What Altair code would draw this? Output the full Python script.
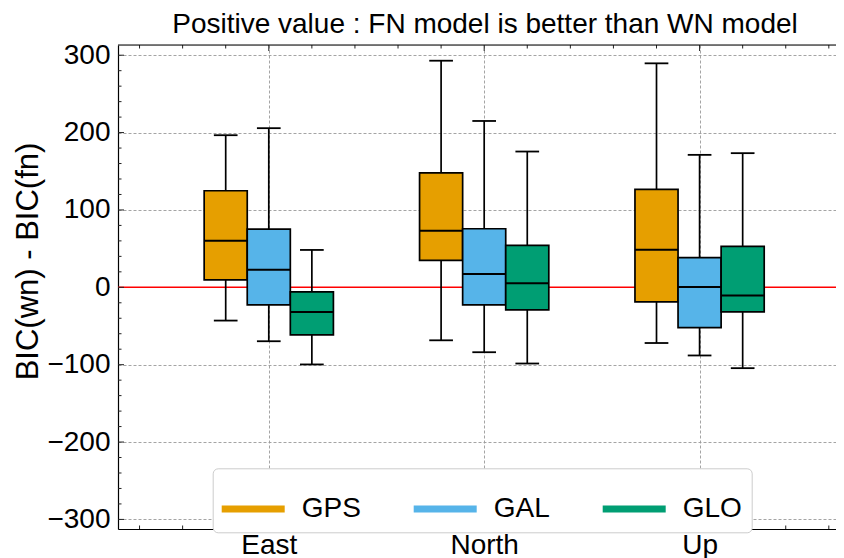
import altair as alt
import pandas as pd

FONT = "Liberation Sans"

# ---------------- data ----------------
categories = ["East", "North", "Up"]
systems = ["GPS", "GAL", "GLO"]
system_colors = ["#E69F00", "#56B4E9", "#009E73"]

# box statistics per category (East, North, Up)
gps_low = [-43.0, -68.5, -72.0]
gps_q1 = [9.5, 34.8, -18.9]
gps_median = [60.3, 73.2, 48.6]
gps_q3 = [124.8, 148.0, 126.5]
gps_high = [196.6, 292.9, 289.5]

gal_low = [-69.7, -83.9, -88.1]
gal_q1 = [-22.7, -22.7, -52.0]
gal_median = [22.8, 17.3, 0.5]
gal_q3 = [75.3, 75.7, 38.3]
gal_high = [205.7, 215.0, 171.2]

glo_low = [-99.7, -98.5, -104.5]
glo_q1 = [-61.4, -29.2, -31.7]
glo_median = [-31.8, 5.2, -10.7]
glo_q3 = [-5.9, 54.2, 52.9]
glo_high = [48.3, 175.5, 173.4]

y_major_ticks = [-300, -200, -100, 0, 100, 200, 300]
y_minor_ticks = [v for v in range(-300, 301, 20) if v % 100 != 0]
x_major_ticks = [0, 1, 2]
x_minor_ticks = [-0.6, -0.4, -0.2, 0.2, 0.4, 0.6, 0.8, 1.2, 1.4, 1.6, 1.8, 2.2, 2.4, 2.6]

title_text = "Positive value : FN model is better than WN model"
y_title = "BIC(wn) - BIC(fn)"

# ---------------- table ----------------
stats = {
    "GPS": (gps_low, gps_q1, gps_median, gps_q3, gps_high),
    "GAL": (gal_low, gal_q1, gal_median, gal_q3, gal_high),
    "GLO": (glo_low, glo_q1, glo_median, glo_q3, glo_high),
}
group_offsets = {"GPS": -0.2, "GAL": 0.0, "GLO": 0.2}
BOX_HALF = 0.1
CAP_HALF = 0.055

rows = []
for s in systems:
    lo, q1, med, q3, hi = stats[s]
    for i, c in enumerate(categories):
        pos = i + group_offsets[s]
        rows.append(dict(system=s, category=c, pos=pos,
                         left=pos - BOX_HALF, right=pos + BOX_HALF,
                         cap_l=pos - CAP_HALF, cap_r=pos + CAP_HALF,
                         low=lo[i], q1=q1[i], median=med[i], q3=q3[i], high=hi[i]))
df = pd.DataFrame(rows)

label_expr = "''"
for i in reversed(range(len(categories))):
    label_expr = f"(datum.value > {i} - 0.5 && datum.value < {i} + 0.5) ? '{categories[i]}' : ({label_expr})"

# ---------------- chart ----------------
W, H = 718, 484
xs = alt.Scale(domain=[-0.7, 2.6333], nice=False, zero=False)
ys = alt.Scale(domain=[-312.4, 313.2], nice=False, zero=False)
color_scale = alt.Scale(domain=systems, range=system_colors)

x_axis = alt.Axis(values=x_major_ticks, labelExpr=label_expr,
                  labelFont=FONT, labelFontSize=28, labelColor="black",
                  labelPadding=2, labelFlush=False,
                  ticks=False, domainColor="black", domainWidth=1.2,
                  title=None,
                  grid=True, gridColor="#9a9a9a", gridDash=[3, 2], gridWidth=0.9)

y_axis = alt.Axis(values=y_major_ticks,
                  labelFont=FONT, labelFontSize=28, labelColor="black",
                  labelPadding=8, labelFlush=False,
                  ticks=False, domainColor="black", domainWidth=1.2,
                  title=y_title, titleFont=FONT, titleFontSize=31,
                  titleFontWeight="normal", titleColor="black",
                  titleAngle=270, titleAlign="center", titleBaseline="alphabetic",
                  titleX=-81, titleY=216,
                  grid=True, gridColor="#9a9a9a", gridDash=[3, 2], gridWidth=0.9)


def X(field):
    return alt.X(field, scale=xs, axis=x_axis)


def Y(field):
    return alt.Y(field, scale=ys, axis=y_axis)


# legend symbol: a thick horizontal bar (unit-square path, scaled by the symbol size)
bar_symbol = "M-1,-0.111L1,-0.111L1,0.111L-1,0.111Z"
legend = alt.Legend(title=None, orient="none", legendX=94.7, legendY=423.3,
                    direction="horizontal", symbolType=bar_symbol,
                    symbolSize=3969, symbolStrokeWidth=0, symbolOpacity=1,
                    labelFont=FONT, labelFontSize=28, labelColor="black",
                    labelOffset=17, columnPadding=52, padding=9,
                    strokeColor="#cccccc", fillColor="white", cornerRadius=5)

base = alt.Chart(df)

zero_line = alt.Chart(pd.DataFrame({"v": [0]})).mark_rule(
    color="#ff0000", strokeWidth=1.5).encode(y=Y("v:Q"))

whisk_lo = base.mark_rule(color="black", strokeWidth=1.7).encode(
    x=X("pos:Q"), y=Y("low:Q"), y2="q1:Q")
whisk_hi = base.mark_rule(color="black", strokeWidth=1.7).encode(
    x=X("pos:Q"), y=Y("q3:Q"), y2="high:Q")

boxes = base.mark_bar(stroke="black", strokeWidth=1.7, opacity=1).encode(
    x=X("left:Q"), x2="right:Q", y=Y("q1:Q"), y2="q3:Q",
    color=alt.Color("system:N", scale=color_scale, legend=legend))

medians = base.mark_rule(color="black", strokeWidth=2).encode(
    x=X("left:Q"), x2="right:Q", y=Y("median:Q"))

caps_lo = base.mark_rule(color="black", strokeWidth=1.8).encode(
    x=X("cap_l:Q"), x2="cap_r:Q", y=Y("low:Q"))
caps_hi = base.mark_rule(color="black", strokeWidth=1.8).encode(
    x=X("cap_l:Q"), x2="cap_r:Q", y=Y("high:Q"))

# inward ticks
TICK = dict(color="#222222", strokeWidth=1)
ymaj = alt.Chart(pd.DataFrame({"v": y_major_ticks})).mark_rule(**TICK).encode(
    y=Y("v:Q"), x=alt.value(0), x2=alt.value(6))
ymin = alt.Chart(pd.DataFrame({"v": y_minor_ticks})).mark_rule(**TICK).encode(
    y=Y("v:Q"), x=alt.value(0), x2=alt.value(3.5))
xmaj_b = alt.Chart(pd.DataFrame({"v": x_major_ticks})).mark_rule(**TICK).encode(
    x=X("v:Q"), y=alt.value(H), y2=alt.value(H - 6))
xmin_b = alt.Chart(pd.DataFrame({"v": x_minor_ticks})).mark_rule(**TICK).encode(
    x=X("v:Q"), y=alt.value(H), y2=alt.value(H - 3.5))
xmaj_t = alt.Chart(pd.DataFrame({"v": x_major_ticks})).mark_rule(**TICK).encode(
    x=X("v:Q"), y=alt.value(0), y2=alt.value(6))
xmin_t = alt.Chart(pd.DataFrame({"v": x_minor_ticks})).mark_rule(**TICK).encode(
    x=X("v:Q"), y=alt.value(0), y2=alt.value(3.5))
top_border = alt.Chart(pd.DataFrame({"v": [0]})).mark_rule(
    color="black", strokeWidth=1.2).encode(
    x=alt.value(0), x2=alt.value(W), y=alt.value(0))

chart = alt.layer(
    zero_line, whisk_lo, whisk_hi, boxes, medians, caps_lo, caps_hi,
    ymaj, ymin, xmaj_b, xmin_b, xmaj_t, xmin_t, top_border,
).properties(
    width=W, height=H,
    autosize=alt.AutoSizeParams(type="none"),
    padding={"left": 110, "top": 37, "right": 0, "bottom": 29},
    title=alt.TitleParams(text=title_text, font=FONT, fontSize=28,
                          fontWeight="normal", color="black", anchor="middle",
                          frame="group", offset=2, dx=8),
).configure_view(stroke="transparent", strokeWidth=0).configure(font=FONT)

chart.save("out.html", embed_options={"renderer": "svg", "actions": False})
